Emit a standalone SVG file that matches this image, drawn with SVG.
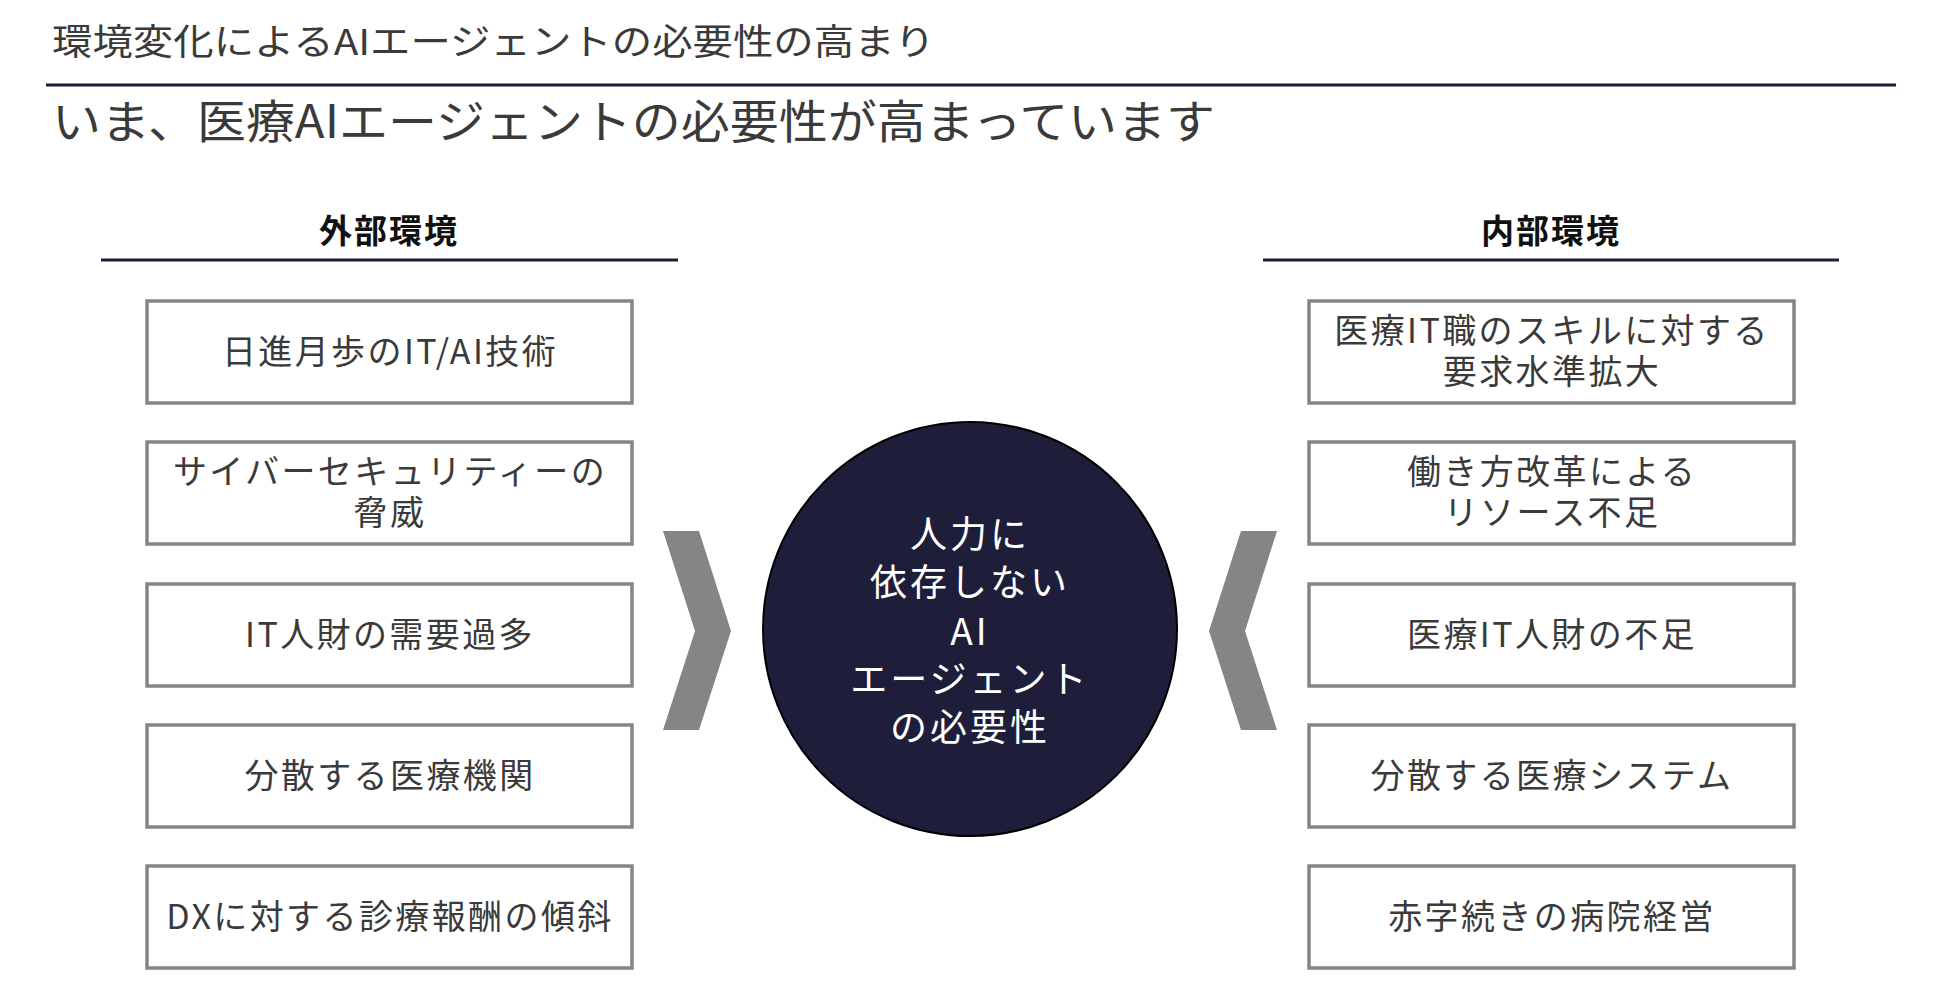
<svg xmlns="http://www.w3.org/2000/svg" width="1950" height="992" viewBox="0 0 1950 992">
<style>
text{font-family:"Noto Sans CJK JP","Noto Sans",sans-serif;}
.ttl{font-size:36px;fill:#3a3a3a;}
.sub{font-size:46px;fill:#3a3a3a;}
.hdr{font-size:33px;font-weight:bold;fill:#111;letter-spacing:2px;}
.rule{stroke:#1e1e3a;stroke-width:3;}
.box rect{fill:#fff;stroke:#858585;stroke-width:3.5;}
.box text{font-size:34px;fill:#3a3a3a;letter-spacing:2.4px;text-anchor:middle;}
.chev{fill:#858585;}
.ctext{font-size:37px;fill:#fff;text-anchor:middle;letter-spacing:3px;}
</style>
<rect width="1950" height="992" fill="#fff"/>
<text class="ttl" x="52" y="55" textLength="883" lengthAdjust="spacingAndGlyphs">環境変化によるAIエージェントの必要性の高まり</text>
<line class="rule" x1="46" y1="85" x2="1896" y2="85"/>
<text class="sub" x="52" y="138" textLength="1163" lengthAdjust="spacingAndGlyphs">いま、医療AIエージェントの必要性が高まっています</text>

<g id="header-left">
<text class="hdr" x="389" y="243" text-anchor="middle">外部環境</text>
<line class="rule" x1="101" y1="260" x2="678" y2="260"/>
</g>
<g id="header-right">
<text class="hdr" x="1551" y="243" text-anchor="middle">内部環境</text>
<line class="rule" x1="1263" y1="260" x2="1839" y2="260"/>
</g>

<g id="ext-1" class="box"><rect x="147" y="301" width="485" height="102"/><text x="390" y="364">日進月歩のIT/AI技術</text></g>
<g id="ext-2" class="box"><rect x="147" y="442" width="485" height="102"/><text x="390" y="484">サイバーセキュリティーの</text><text x="390" y="525">脅威</text></g>
<g id="ext-3" class="box"><rect x="147" y="584" width="485" height="102"/><text x="390" y="647">IT人財の需要過多</text></g>
<g id="ext-4" class="box"><rect x="147" y="725" width="485" height="102"/><text x="390" y="788">分散する医療機関</text></g>
<g id="ext-5" class="box"><rect x="147" y="866" width="485" height="102"/><text x="390" y="929">DXに対する診療報酬の傾斜</text></g>

<g id="int-1" class="box"><rect x="1309" y="301" width="485" height="102"/><text x="1552" y="343">医療IT職のスキルに対する</text><text x="1552" y="384">要求水準拡大</text></g>
<g id="int-2" class="box"><rect x="1309" y="442" width="485" height="102"/><text x="1552" y="484">働き方改革による</text><text x="1552" y="525">リソース不足</text></g>
<g id="int-3" class="box"><rect x="1309" y="584" width="485" height="102"/><text x="1552" y="647">医療IT人財の不足</text></g>
<g id="int-4" class="box"><rect x="1309" y="725" width="485" height="102"/><text x="1552" y="788">分散する医療システム</text></g>
<g id="int-5" class="box"><rect x="1309" y="866" width="485" height="102"/><text x="1552" y="929">赤字続きの病院経営</text></g>

<g id="connectors">
<polygon class="chev" points="663,531 699,531 731,631 699,730 663,730 695,631"/>
<polygon class="chev" points="1277,531 1241,531 1209,631 1241,730 1277,730 1245,631"/>
</g>

<g id="center">
<circle cx="970" cy="629" r="207" fill="#1e1e3a" stroke="#000" stroke-width="2"/>
<text class="ctext" x="970" y="548">人力に</text>
<text class="ctext" x="970" y="596">依存しない</text>
<text class="ctext" x="970" y="645">AI</text>
<text class="ctext" x="970" y="693">エージェント</text>
<text class="ctext" x="970" y="741">の必要性</text>
</g>
</svg>
